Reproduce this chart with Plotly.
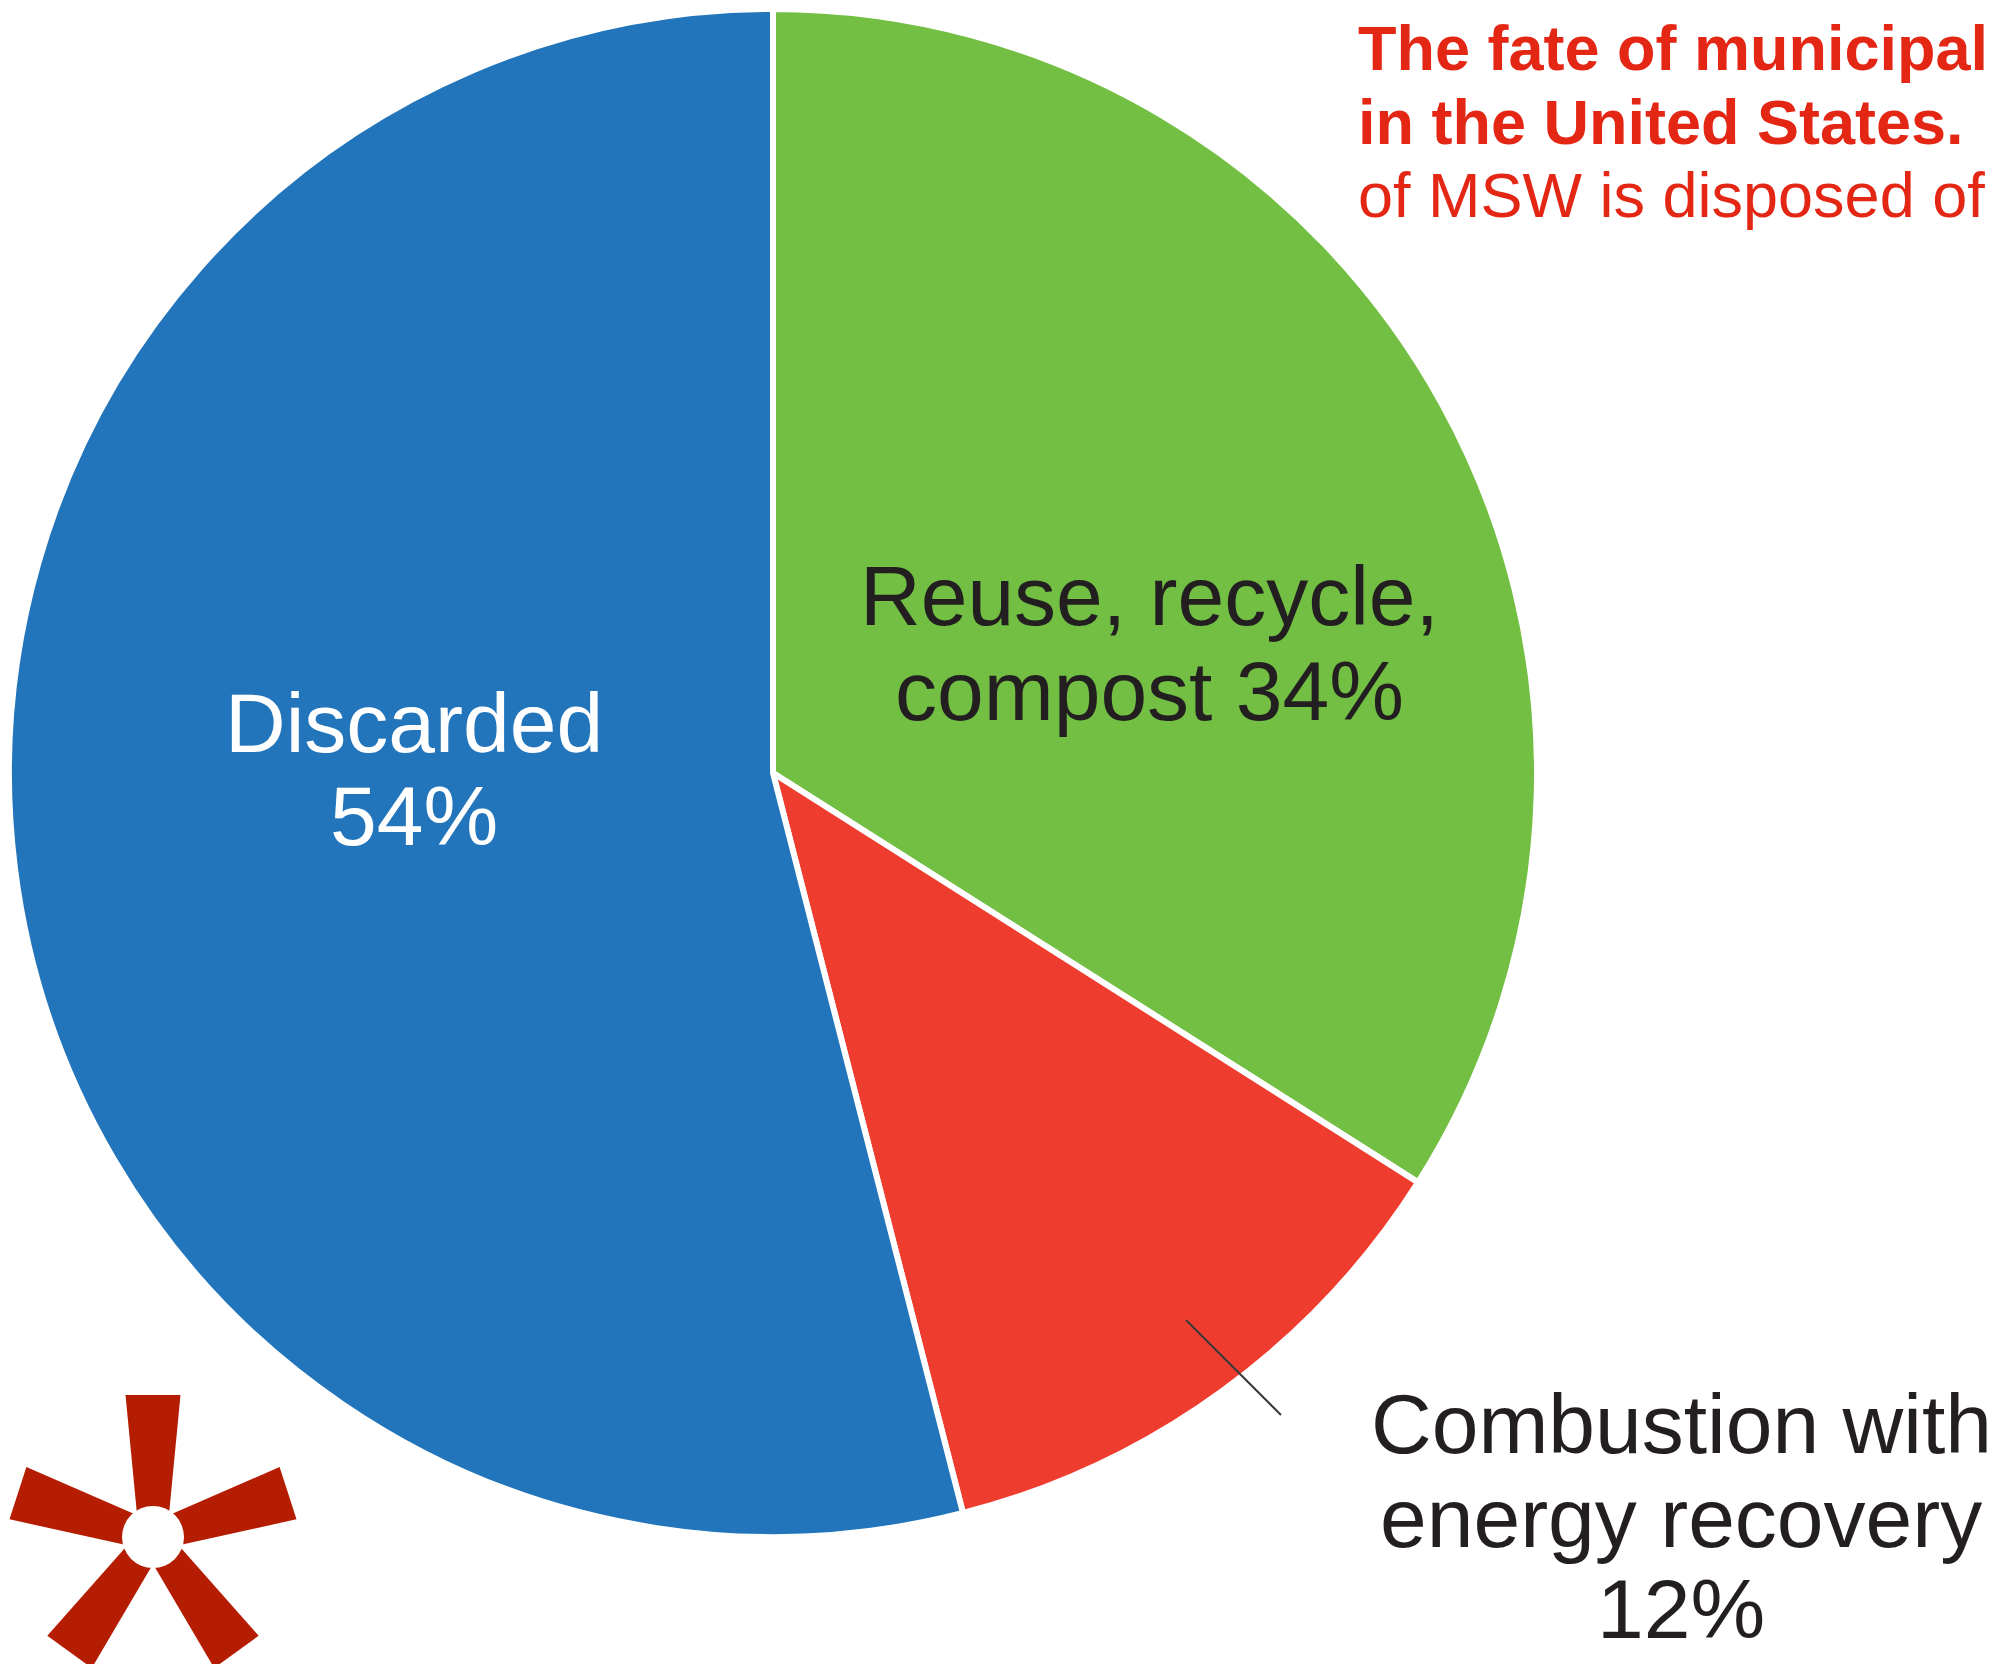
import math
import plotly.graph_objects as go

# Fate of municipal solid waste (MSW), share of total
categories = ["Reuse, recycle, compost", "Combustion with energy recovery", "Discarded"]
shares = [34, 12, 54]
slice_colors = ["#72BF44", "#EE3D2F", "#2275BB"]

title_lines = [
    ("<b>The fate of municipal</b>", 48),
    ("<b>in the United States.</b>", 122),
    ("of MSW is disposed of", 195),
]

W, H = 1999, 1664
CX, CY, R = 773, 773, 764   # pie centre and radius in pixels

fig = go.Figure()

fig.add_trace(go.Pie(
    labels=categories,
    values=shares,
    sort=False,
    direction="clockwise",
    rotation=0,
    textinfo="none",
    hoverinfo="label+percent",
    marker=dict(colors=slice_colors, line=dict(color="white", width=6)),
    domain=dict(x=[(CX - R) / W, (CX + R) / W],
                y=[1 - (CY + R) / H, 1 - (CY - R) / H]),
    showlegend=False,
))

FONT = "Liberation Sans, Arial, Helvetica, sans-serif"
annotations = []


def label(text, x, y, size, color, anchor="center"):
    annotations.append(dict(
        x=x, y=y, xref="x", yref="y", text=text, showarrow=False,
        xanchor=anchor, yanchor="middle",
        font=dict(family=FONT, size=size, color=color),
    ))


# slice labels
label("Discarded", 414, 723, 84, "white")
label(f"{shares[2]}%", 414, 816, 84, "white")
label("Reuse, recycle,", 1149, 596, 84, "#231F20")
label(f"compost {shares[0]}%", 1149, 691, 84, "#231F20")
label("Combustion with", 1681, 1424, 84, "#231F20")
label("energy recovery", 1681, 1518, 84, "#231F20")
label(f"{shares[1]}%", 1681, 1609, 84, "#231F20")

# caption in the top-right corner
for text, ymid in title_lines:
    label(text, 1356, ymid, 63, "#E42614", anchor="left")

shapes = []

# leader line for the combustion slice
shapes.append(dict(type="line", xref="x", yref="y",
                   x0=1186, y0=1320, x1=1281, y1=1415,
                   line=dict(color="#3A3A3A", width=2)))

# publisher asterisk mark: five tapered spokes around a white hub
LX, LY = 153, 1537
spoke_len, hw_in, hw_out = 142, 13.8, 27.5
for k in range(5):
    t = math.radians(72 * k)
    ux, uy = math.sin(t), -math.cos(t)      # spoke direction
    px, py = -uy, ux                         # perpendicular
    pts = [
        (LX + px * hw_in, LY + py * hw_in),
        (LX + ux * spoke_len + px * hw_out, LY + uy * spoke_len + py * hw_out),
        (LX + ux * spoke_len - px * hw_out, LY + uy * spoke_len - py * hw_out),
        (LX - px * hw_in, LY - py * hw_in),
    ]
    path = "M " + " L ".join(f"{x:.1f},{y:.1f}" for x, y in pts) + " Z"
    shapes.append(dict(type="path", xref="x", yref="y", path=path,
                       fillcolor="#B51D02", line=dict(width=0)))
shapes.append(dict(type="circle", xref="x", yref="y",
                   x0=LX - 31, x1=LX + 31, y0=LY - 31, y1=LY + 31,
                   fillcolor="white", line=dict(width=0)))

fig.update_layout(
    width=W, height=H,
    margin=dict(l=0, r=0, t=0, b=0),
    paper_bgcolor="white", plot_bgcolor="rgba(0,0,0,0)",
    xaxis=dict(range=[0, W], visible=False, fixedrange=True, domain=[0, 1]),
    yaxis=dict(range=[H, 0], visible=False, fixedrange=True, domain=[0, 1]),
    annotations=annotations,
    shapes=shapes,
)

fig.write_html("out.html")
